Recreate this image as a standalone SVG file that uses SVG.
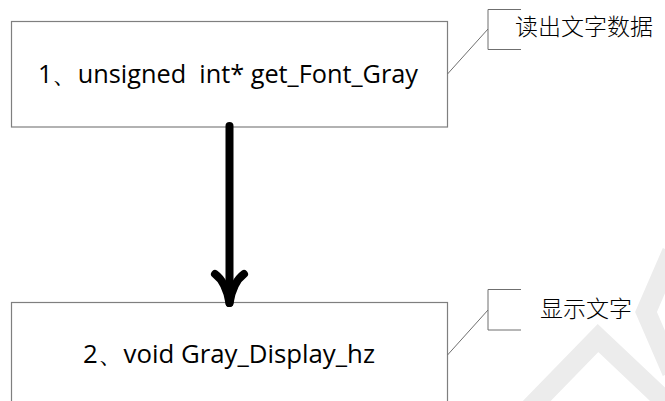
<svg xmlns="http://www.w3.org/2000/svg" width="665" height="401" viewBox="0 0 665 401">
<style>
.box{fill:#fff;stroke:#7f7f7f;stroke-width:1.2}
.lbl{font-family:"Open Sans","Noto Sans",sans-serif;font-size:25px;fill:#000}
.cjk{font-family:"Noto Sans CJK SC",sans-serif;font-size:23px;font-weight:300;fill:#000}
.call{fill:none;stroke:#6f6f6f;stroke-width:1}
.wm{fill:none;stroke:#ececec;stroke-width:20;stroke-linejoin:miter}
</style>
<rect width="665" height="401" fill="#fff"/>
<g id="watermark">
<polyline class="wm" points="672,252 646,312 672,372"/>
<polyline class="wm" points="528,410 598,338 672,408"/>
</g>
<g id="node1">
<rect class="box" x="11.5" y="21.5" width="436" height="105.5"/>
<text class="lbl" x="38" y="83" textLength="380" lengthAdjust="spacingAndGlyphs" xml:space="preserve">1、unsigned  int* get_Font_Gray</text>
</g>
<g id="node2">
<rect class="box" x="11.5" y="302.5" width="436" height="110"/>
<text class="lbl" x="83" y="363" textLength="292" lengthAdjust="spacingAndGlyphs">2、void Gray_Display_hz</text>
</g>
<g id="callout1">
<path class="call" d="M521,9.5 H488 V49.5 H521 M447.5,74 L488,29"/>
<text class="cjk" x="515" y="35">读出文字数据</text>
</g>
<g id="callout2">
<path class="call" d="M521,289.5 H488 V330 H521 M447.5,355 L488,310"/>
<text class="cjk" x="540" y="317">显示文字</text>
</g>
<g id="connectors">
<path d="M229.5,126 V303" fill="none" stroke="#000" stroke-width="8" stroke-linecap="round"/>
<path d="M215,274 Q226,282 229.5,303 Q233,282 244,274" fill="none" stroke="#000" stroke-width="8" stroke-linecap="round" stroke-linejoin="round"/>
</g>
</svg>
